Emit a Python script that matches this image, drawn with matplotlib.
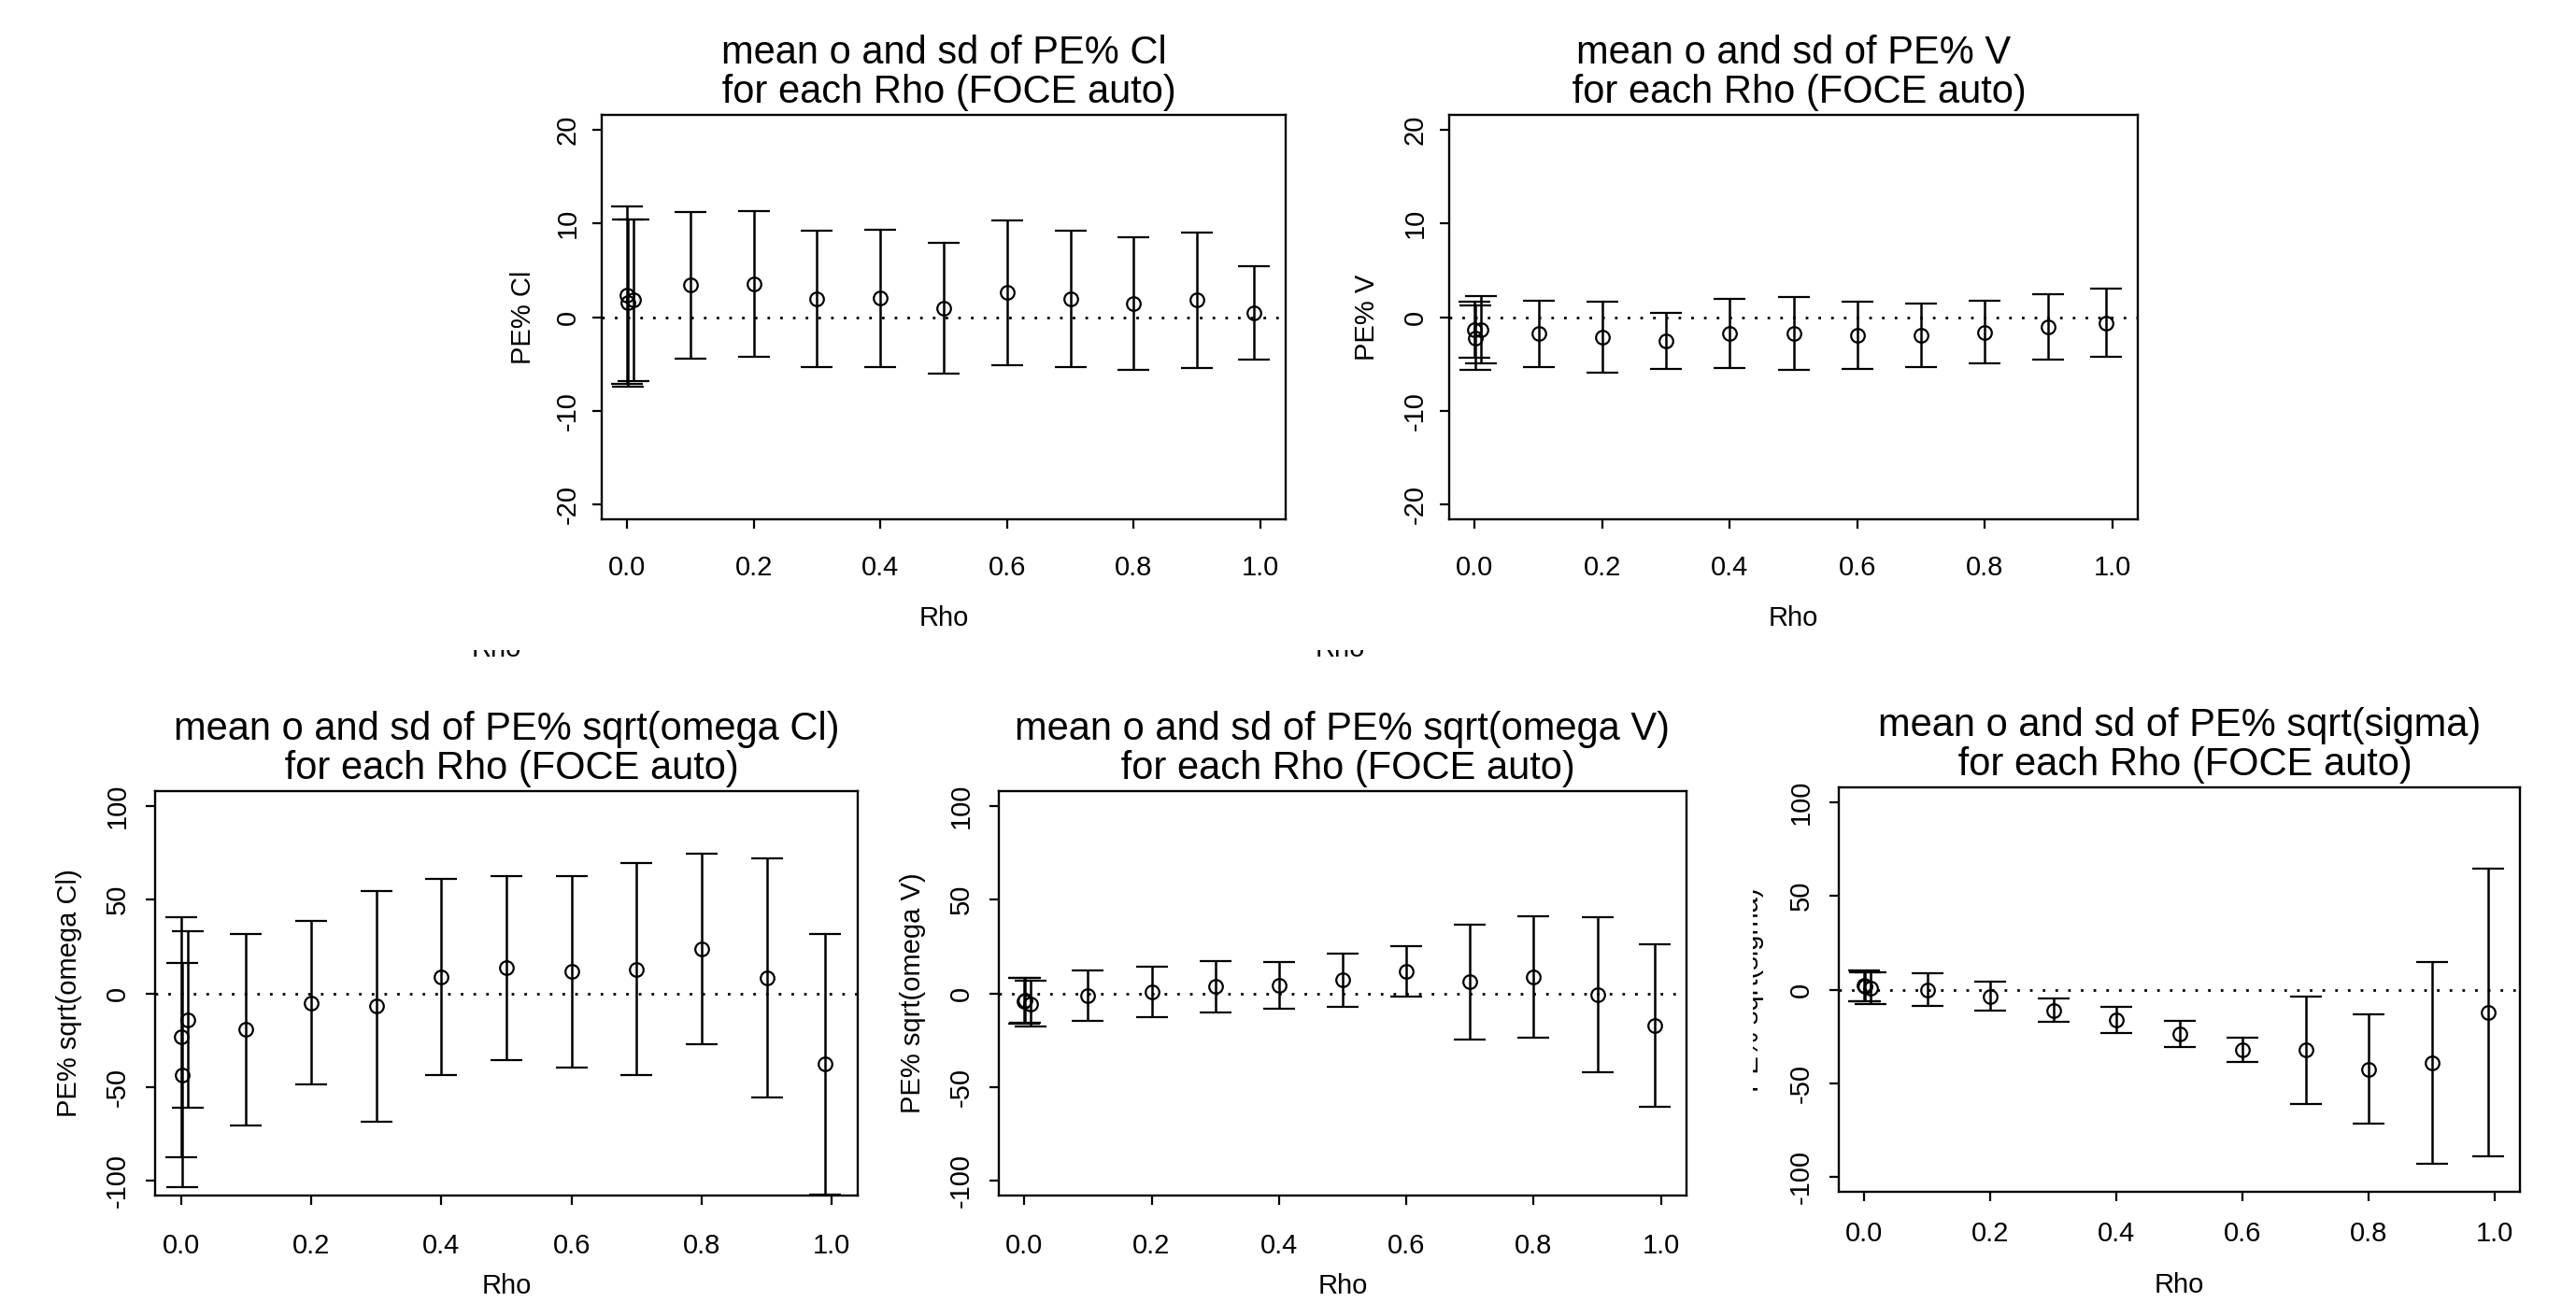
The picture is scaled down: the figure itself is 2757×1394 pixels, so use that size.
import matplotlib
matplotlib.use("Agg")
import matplotlib.pyplot as plt
from matplotlib.patches import Rectangle

plt.rcParams['font.family'] = ['Liberation Sans', 'DejaVu Sans']

# figure size in pixels
W, H = 2757, 1394
DPI = 100

# Rho values (x)
rho = [0.0, 0.001, 0.01, 0.1, 0.2, 0.3, 0.4, 0.5, 0.6, 0.7, 0.8, 0.9, 0.99]

# PE% Cl
cl_mean = [2.35, 1.5, 1.8, 3.4, 3.55, 1.95, 2.0, 0.95, 2.6, 1.95, 1.42, 1.8, 0.45]
cl_sd = [9.45, 8.9, 8.6, 7.8, 7.8, 7.3, 7.3, 6.95, 7.7, 7.3, 7.08, 7.2, 4.95]

# PE% V
v_mean = [-1.35, -2.2, -1.35, -1.78, -2.13, -2.57, -1.77, -1.78, -1.98, -1.95, -1.62, -1.05, -0.63]
v_sd = [3.02, 3.4, 3.57, 3.52, 3.77, 3.0, 3.7, 3.88, 3.58, 3.35, 3.35, 3.45, 3.63]

# PE% sqrt(omega Cl)
wcl_mean = [-23.35, -43.75, -14.0, -19.45, -5.0, -6.85, 8.8, 13.5, 11.5, 12.9, 23.9, 8.4, -37.75]
wcl_sd = [64.15, 59.75, 47.0, 51.25, 43.5, 61.65, 52.5, 49.0, 51.0, 56.6, 50.9, 63.9, 69.55]

# PE% sqrt(omega V)
wv_mean = [-4.2, -3.8, -5.5, -1.1, 0.9, 3.65, 4.4, 7.15, 11.75, 6.05, 8.9, -0.65, -17.1]
wv_sd = [12.2, 12.0, 12.0, 13.4, 13.4, 13.65, 12.4, 14.15, 13.25, 30.75, 32.4, 41.35, 43.4]

# PE% sqrt(sigma)
sig_mean = [2.0, 1.5, 0.8, 0.0, -3.55, -11.05, -16.3, -23.8, -32.3, -32.4, -42.55, -39.05, -12.25]
sig_sd = [8.3, 7.7, 8.3, 8.75, 7.75, 6.25, 7.0, 7.0, 6.5, 28.9, 29.25, 53.75, 76.95]

x_ticks = [0.0, 0.2, 0.4, 0.6, 0.8, 1.0]
small_ticks = [-20, -10, 0, 10, 20]
big_ticks = [-100, -50, 0, 50, 100]


def fig_rect(x0, y0, x1, y1):
    return [x0 / W, 1 - y1 / H, (x1 - x0) / W, (y1 - y0) / H]


fig = plt.figure(figsize=(W / DPI, H / DPI), dpi=DPI)
fig.patch.set_facecolor('white')

# data, sd, limit, y ticks, title part, y label, box (px), x pad, y pad,
# ylabel offset, xlabel offset
panels = [
    (cl_mean, cl_sd, 20, small_ticks, 'Cl', 'PE% Cl', (644, 123, 1376, 556), 20, 9, 84, 106),
    (v_mean, v_sd, 20, small_ticks, 'V', 'PE% V', (1551, 123, 2288, 556), 20, 9, 88, 106),
    (wcl_mean, wcl_sd, 100, big_ticks, 'sqrt(omega Cl)', 'PE% sqrt(omega Cl)',
     (166, 847, 918, 1280), 22, 12, 92, 97),
    (wv_mean, wv_sd, 100, big_ticks, 'sqrt(omega V)', 'PE% sqrt(omega V)',
     (1069, 847, 1805, 1280), 22, 12, 92, 97),
    (sig_mean, sig_sd, 100, big_ticks, 'sqrt(sigma)', 'PE% sqrt(sigma)',
     (1968, 843, 2697, 1276), 15, 12, 94, 100),
]

for i, (mean, sd, lim, yticks, name, ylab, box, xpad, ypad, yoff, xoff) in enumerate(panels):
    x0, y0, x1, y1 = box
    ax = fig.add_axes(fig_rect(*box))
    ax.axhline(0, color='black', lw=2, linestyle=(0, (1, 3.9)))
    ax.errorbar(rho, mean, yerr=sd, fmt='o', mfc='none', mec='black', ms=10.5,
                mew=1.6, ecolor='black', elinewidth=1.8, capsize=12.5,
                capthick=1.8, color='black')
    ax.set_xlim(-0.04, 1.04)
    ax.set_ylim(-lim * 1.08, lim * 1.08)
    ax.set_xticks(x_ticks)
    ax.set_xticklabels([f'{t:.1f}' for t in x_ticks])
    ax.set_yticks(yticks)
    ax.set_yticklabels([str(t) for t in yticks], rotation=90, va='center')
    ax.tick_params(axis='both', direction='out', length=7, width=1.6,
                   labelsize=21, color='black')
    ax.tick_params(axis='x', pad=xpad)
    ax.tick_params(axis='y', pad=ypad)
    for s in ax.spines.values():
        s.set_linewidth(1.7)

    cx = (x0 + x1) / 2
    fig.text(cx / W, 1 - (y0 - 66) / H, f'mean o and sd of PE% {name}',
             ha='center', va='center', fontsize=30)
    fig.text(cx / W, 1 - (y0 - 24) / H, ' for each Rho (FOCE auto)',
             ha='center', va='center', fontsize=30)
    fig.text(cx / W, 1 - (y1 + xoff) / H, 'Rho', ha='center', va='center',
             fontsize=21)
    yl = fig.text((x0 - yoff) / W, 1 - ((y0 + y1) / 2) / H, ylab, rotation=90,
                  ha='center', va='center', fontsize=21)
    if i == 4:
        # label partly hidden by the neighbouring panel
        yl.set_clip_path(Rectangle((1876 / W, 0), 1, 1, transform=fig.transFigure))

# leftover bits of hidden x labels under the top row
for xc in [531, 1434]:
    t = fig.text(xc / W, 1 - 703 / H, 'Rho', ha='center', va='baseline',
                 fontsize=21)
    t.set_clip_path(Rectangle((0, 0), 1, 1 - 696 / H, transform=fig.transFigure))

fig.savefig('out.png', dpi=DPI, facecolor='white')
plt.close(fig)
